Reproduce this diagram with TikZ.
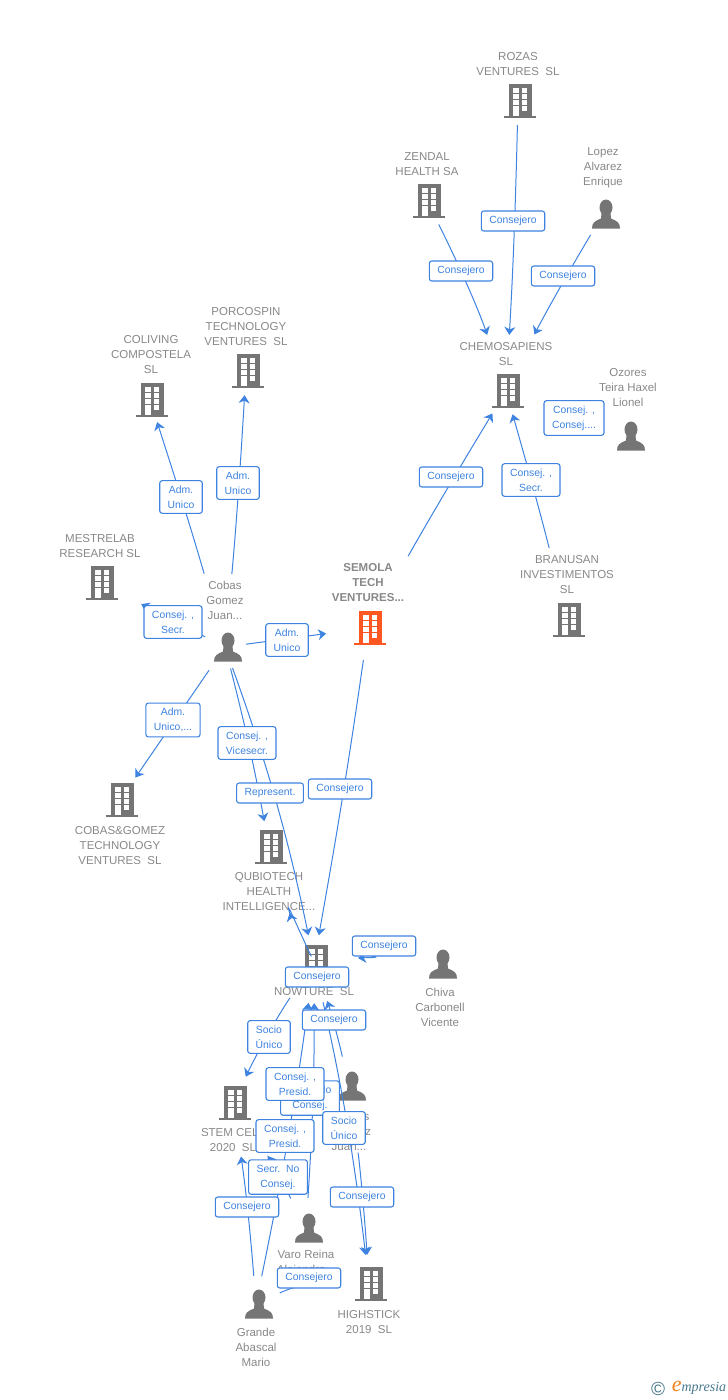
\documentclass[tikz,border=0pt]{standalone}
\usepackage{xcolor}
\usepackage{fontspec}
\setmainfont{Liberation Sans}
\newfontfamily\logofont{Liberation Serif}
\usetikzlibrary{arrows.meta}
\definecolor{nodegray}{RGB}{117,117,117}
\definecolor{textgray}{RGB}{136,136,136}
\definecolor{linkblue}{RGB}{62,131,224}
\definecolor{semolared}{RGB}{255,87,34}
\definecolor{logogray}{RGB}{70,120,140}
\definecolor{logoorange}{RGB}{240,130,30}
\tikzset{
	entity/.style={inner sep=0pt,minimum size=0pt},
	nametxt/.style={text=textgray,font=\fontsize{11.5}{15}\selectfont,align=center,inner sep=0pt,yshift=-1pt},
	link/.style={draw=linkblue,line width=1pt,-{Stealth[length=8pt,width=11pt,inset=2.5pt]}},
	role/.style={draw=linkblue,fill=white,line width=1.1pt,rounded corners=2.5pt,text=linkblue,
		font=\fontsize{10.4}{15}\selectfont,align=center,inner xsep=8pt,inner ysep=5pt,minimum height=20pt},
	building/.pic={
		\fill[pic actions] (-11.5,-17) rectangle (11.5,15);
		\fill[pic actions] (-16,15) rectangle (16,17);
		\foreach \yy in {-13,-7,-1,5} \fill[white] (1.5,\yy) rectangle (7,\yy+4.5);
		\foreach \yy in {-13,-7,-1} \fill[white] (-7,\yy) rectangle (-1.5,\yy+4.5);
		\fill[white] (-7,5) rectangle (-1.5,15);
	},
	person/.pic={
		\fill[pic actions] (0,-6.5) ellipse (6.5pt and 8pt);
		\fill[pic actions] (-14,14.5) .. controls (-14,8.5) and (-11,7) .. (-5,4.5)
			-- (-4.5,-1) -- (4.5,-1) -- (5,4.5)
			.. controls (11,7) and (14,8.5) .. (14,14.5) -- cycle;
	}
}
\begin{document}
\begin{tikzpicture}[x=1pt,y=-1pt]
	\useasboundingbox (0,0) rectangle (728,1400);
	% companies
	\node[entity] (rozas) at (518,101) {};
	\node[entity] (zendal) at (427,201) {};
	\node[entity] (chemo) at (506,391) {};
	\node[entity] (porcospin) at (246,371) {};
	\node[entity] (coliving) at (150,400) {};
	\node[entity] (mestrelab) at (100,583) {};
	\node[entity] (semola) at (368,628) {};
	\node[entity] (branusan) at (567,620) {};
	\node[entity] (cobasgomez) at (120,800) {};
	\node[entity] (qubiotech) at (269,847) {};
	\node[entity] (nowture) at (314,962) {};
	\node[entity] (stem) at (233,1103) {};
	\node[entity] (highstick) at (369,1284) {};
	\foreach \co in {rozas,zendal,chemo,porcospin,coliving,mestrelab,branusan,cobasgomez,qubiotech,nowture,stem,highstick}
		\pic[fill=nodegray] at ([xshift=2pt]\co) {building};
	\pic[fill=semolared] at ([xshift=2pt]semola) {building};
	% people
	\node[entity] (lopez) at (603,214) {};
	\node[entity] (ozores) at (628,436) {};
	\node[entity] (cobas) at (225,647) {};
	\node[entity] (chiva) at (440,964) {};
	\node[entity] (juan) at (349,1086) {};
	\node[entity] (varo) at (306,1228) {};
	\node[entity] (grande) at (256,1304) {};
	\foreach \pe in {lopez,ozores,cobas,chiva,juan,varo,grande}
		\pic[fill=nodegray] at ([xshift=3pt]\pe) {person};
	% names
	\node[nametxt] (rozastxt) at (518,63.5) {ROZAS\\VENTURES\ \ SL};
	\node[nametxt] (zendaltxt) at (427,163.5) {ZENDAL\\HEALTH SA};
	\node[nametxt] (lopeztxt) at (603,167) {Lopez\\Alvarez\\Enrique};
	\node[nametxt] (chemotxt) at (506,353) {CHEMOSAPIENS\\SL};
	\node[nametxt] (ozorestxt) at (628,387) {Ozores\\Teira Haxel\\Lionel};
	\node[nametxt] (porcospintxt) at (246,326) {PORCOSPIN\\TECHNOLOGY\\VENTURES\ \ SL};
	\node[nametxt] (colivingtxt) at (151,354) {COLIVING\\COMPOSTELA\\SL};
	\node[nametxt] (mestrelabtxt) at (100,545.5) {MESTRELAB\\RESEARCH SL};
	\node[nametxt] (cobastxt) at (225,599) {Cobas\\Gomez\\Juan...};
	\node[nametxt,font=\fontsize{11.5}{15}\selectfont\bfseries] (semolatxt) at (368,582) {SEMOLA\\TECH\\VENTURES...};
	\node[nametxt] (branusantxt) at (567,574) {BRANUSAN\\INVESTIMENTOS\\SL};
	\node[nametxt] (cobasgomeztxt) at (120,845) {COBAS\&GOMEZ\\TECHNOLOGY\\VENTURES\ \ SL};
	\node[nametxt] (qubiotechtxt) at (269,891) {QUBIOTECH\\HEALTH\\INTELLIGENCE...};
	\node[nametxt] (nowturetxt) at (314,991) {NOWTURE\ \ SL};
	\node[nametxt] (chivatxt) at (440,1006) {Chiva\\Carbonell\\Vicente};
	\node[nametxt] (stemtxt) at (233,1139.5) {STEM CELL\\2020\ \ SL};
	\node[nametxt] (juantxt) at (349,1130) {Morales\\Martinez\\Juan...};
	\node[nametxt] (varotxt) at (306,1262) {Varo Reina\\Alejandro...};
	\node[nametxt] (highsticktxt) at (369,1321) {HIGHSTICK\\2019\ \ SL};
	\node[nametxt] (grandetxt) at (256,1346) {Grande\\Abascal\\Mario};
	% connectors
	\draw[link,shorten <=24pt,shorten >=56pt] (rozas) to[bend left=1] (chemo);
	\draw[link,shorten <=26pt,shorten >=59pt] (zendal) to[bend left=4] (chemo);
	\draw[link,shorten <=24pt,shorten >=63pt] (lopez) to[bend right=2] (chemo);
	\draw[link,shorten <=30pt,shorten >=43pt] (ozores) to (chemo);
	\draw[link,shorten <=82pt,shorten >=26pt] (semola) to[bend left=1] (chemo);
	\draw[link,shorten <=74pt,shorten >=24pt] (branusan) to[bend right=1] (chemo);
	\draw[link,shorten <=76pt,shorten >=23pt] (cobas) to[bend right=1] (coliving);
	\draw[link,shorten <=73pt,shorten >=24pt] (cobas) to[bend right=1] (porcospin);
	\draw[link,shorten <=22pt,shorten >=46pt] (cobas) to (mestrelab);
	\draw[link,shorten <=21pt,shorten >=42pt] (cobas) to (semola);
	\draw[link,shorten <=28pt,shorten >=27pt] (cobas) to (cobasgomez);
	\draw[link,shorten <=22pt,shorten >=26pt] (cobas) to[bend left=2] (qubiotech);
	\draw[link,shorten <=22pt,shorten >=27pt] (cobas) to[bend left=4] (nowture);
	\draw[link,shorten <=32pt,shorten >=27pt] (semola) to[bend left=1] (nowture);
	\draw[link,shorten <=6pt,shorten >=69pt] (nowture) to[bend left=4] (qubiotech);
	\draw[link,shorten <=76pt,shorten >=44pt] (chiva) to[bend right=6] (nowture);
	\draw[link,shorten <=43pt,shorten >=29pt] (nowture) to[bend right=4] (stem);
	\draw[link,shorten <=30pt,shorten >=41pt] (juan) to[bend right=3] (nowture);
	\draw[link,shorten <=17pt,shorten >=34pt] (juan) to[bend right=10] (stem);
	\draw[link,shorten <=67pt,shorten >=29pt] (juan) to[bend left=2] (highstick);
	\draw[link,shorten <=30pt,shorten >=41pt] (varo) to[bend right=2] (nowture);
	\draw[link,shorten <=33pt,shorten >=63pt] (varo) to[bend right=3] (stem);
	\draw[link,shorten <=28pt,shorten >=54pt] (grande) to[bend right=2] (stem);
	\draw[link,shorten <=28pt,shorten >=41pt] (grande) to[bend right=2] (nowture);
	\draw[link,shorten <=26pt,shorten >=35pt] (grande) to[bend left=15] (highstick);
	\draw[link,shorten <=41pt,shorten >=29pt] (nowture) to[bend left=3] (highstick);
	% roles
	\node[role] (r1) at (513,221) {Consejero};
	\node[role] (r2) at (461,271) {Consejero};
	\node[role] (r3) at (563,276) {Consejero};
	\node[role] (r4) at (574,418) {Consej. ,\\Consej....};
	\node[role] (r5) at (451,477) {Consejero};
	\node[role] (r6) at (531,480) {Consej. ,\\Secr.};
	\node[role] (r7) at (181,497) {Adm.\\Unico};
	\node[role] (r8) at (238,483) {Adm.\\Unico};
	\node[role] (r9) at (173,622) {Consej. ,\\Secr.};
	\node[role] (r10) at (287,640) {Adm.\\Unico};
	\node[role] (r11) at (173,720) {Adm.\\Unico,...};
	\node[role] (r12) at (247,743) {Consej. ,\\Vicesecr.};
	\node[role] (r13) at (270,793) {Represent.};
	\node[role] (r14) at (340,789) {Consejero};
	\node[role] (r15) at (317,977) {Consejero};
	\node[role] (r16) at (384,946) {Consejero};
	\node[role] (r17) at (269,1037) {Socio\\Único};
	\node[role] (r18) at (334,1020) {Consejero};
	\node[role] (r19) at (310,1098) {Secr.\ \ No\\Consej.};
	\node[role] (r20) at (295,1084) {Consej. ,\\Presid.};
	\node[role] (r21) at (344,1128) {Socio\\Único};
	\node[role] (r22) at (285,1136) {Consej. ,\\Presid.};
	\node[role] (r23) at (278,1177) {Secr.\ \ No\\Consej.};
	\node[role] (r24) at (247,1207) {Consejero};
	\node[role] (r25) at (362,1197) {Consejero};
	\node[role] (r26) at (309,1278) {Consejero};
	% logo
	\node[text=logogray,font=\fontsize{19}{19}\selectfont,inner sep=0pt] (copyr) at (658,1389) {©};
	\node[inner sep=0pt,font=\logofont\itshape\fontsize{14}{14}\selectfont,text=logogray] (empresia) at (699,1388)
		{\textcolor{logoorange}{\fontsize{22}{22}\selectfont e}mpresia};
\end{tikzpicture}
\end{document}
